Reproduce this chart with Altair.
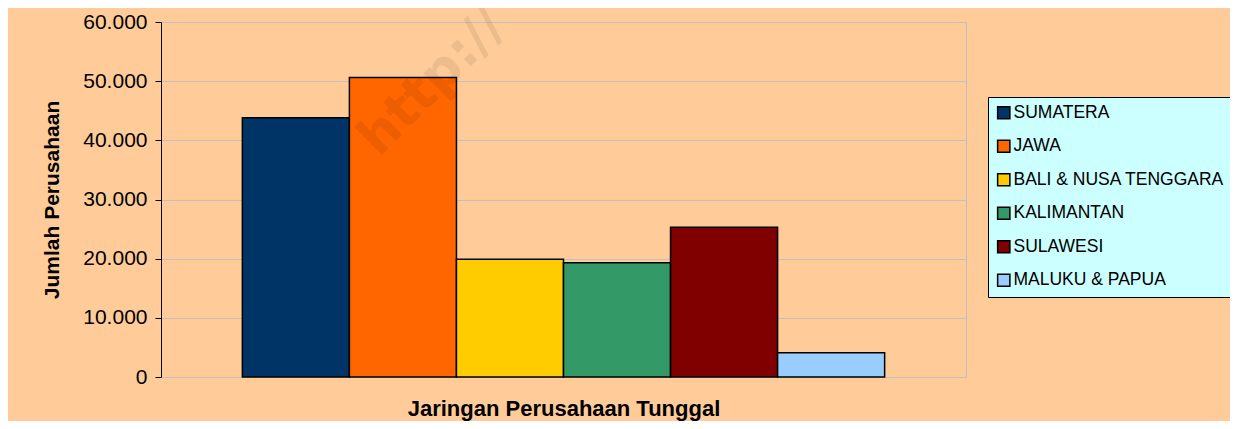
import altair as alt
import pandas as pd

regions = ["SUMATERA", "JAWA", "BALI & NUSA TENGGARA", "KALIMANTAN", "SULAWESI", "MALUKU & PAPUA"]
values = [43800, 50600, 19900, 19300, 25300, 4100]
colors = ["#003366", "#FF6600", "#FFCC00", "#339966", "#800000", "#99CCFF"]
y_ticks = [0, 10000, 20000, 30000, 40000, 50000, 60000]
x_title = "Jaringan Perusahaan Tunggal"
y_title = "Jumlah Perusahaan"
watermark = ["http://"]

df = pd.DataFrame({"region": regions, "value": values})

bars = alt.Chart(df).mark_bar(stroke="black", strokeWidth=1.5, opacity=1).encode(
    x=alt.X(
        "region:N",
        sort=regions,
        scale=alt.Scale(paddingInner=0, paddingOuter=0.76),
        axis=alt.Axis(
            labels=False, ticks=False, domain=False, title=x_title,
            titleFont="Liberation Sans", titleFontSize=22, titleFontWeight="bold",
            titleColor="black", titlePadding=21,
        ),
    ),
    y=alt.Y(
        "value:Q",
        scale=alt.Scale(domain=[0, 60000], nice=False),
        axis=alt.Axis(
            values=y_ticks,
            labelExpr="replace(format(datum.value, ','), ',', '.')",
            labelFont="Liberation Sans", labelFontSize=21, labelColor="black",
            labelPadding=8, tickSize=6, tickColor="black", tickWidth=1,
            domainColor="black", domainWidth=1,
            gridColor="#C0C0C0", gridWidth=1,
            title=y_title, titleFont="Liberation Sans", titleFontSize=21,
            titleFontWeight="bold", titleColor="black", titlePadding=20,
        ),
    ),
    color=alt.Color(
        "region:N",
        sort=regions,
        scale=alt.Scale(domain=regions, range=colors),
        legend=alt.Legend(
            title=None, orient="none", legendX=827, legendY=75,
            fillColor="#CCFFFF", strokeColor="#000000", padding=7,
            symbolType="square", symbolSize=150, symbolStrokeColor="black",
            symbolStrokeWidth=1.5, symbolOpacity=1,
            labelFont="Liberation Sans", labelFontSize=17.5, labelColor="black",
            labelLimit=400, labelOffset=1, rowPadding=14.5, cornerRadius=0,
        ),
    ),
)

wm = alt.Chart(pd.DataFrame({"t": watermark})).mark_text(
    angle=315, align="left", baseline="alphabetic", font="DejaVu Sans",
    fontWeight="bold", fontSize=52, color="black", opacity=0.07,
).encode(x=alt.value(218), y=alt.value(136), text="t:N")

chart = alt.layer(bars, wm).properties(
    width=805, height=355,
    autosize=alt.AutoSizeParams(type="none"),
    padding={"left": 153, "top": 14, "right": 264, "bottom": 44},
    background="#FFCC99",
).configure_view(stroke="#C0C0C0", strokeWidth=1)

chart.save("out.html", embed_options={"renderer": "svg", "actions": False})
